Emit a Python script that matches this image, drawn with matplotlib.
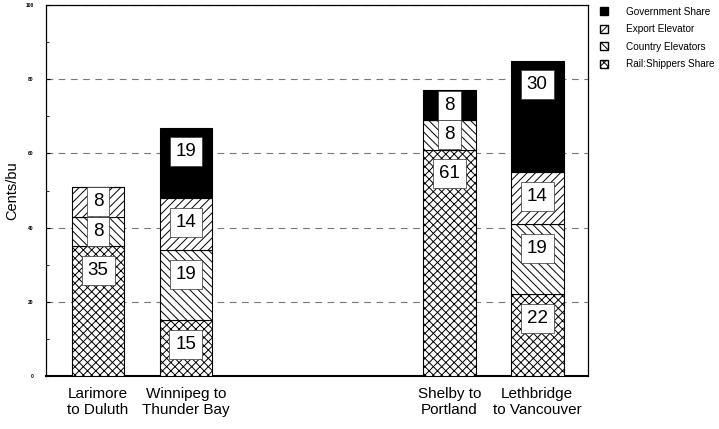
import matplotlib
matplotlib.use("Agg")
import matplotlib.pyplot as plt
from matplotlib.patches import Patch
from matplotlib.ticker import MultipleLocator
import numpy as np

plt.rcParams['font.family'] = ['Liberation Sans', 'DejaVu Sans']
plt.rcParams['hatch.linewidth'] = 0.7

routes = ["Larimore\nto Duluth", "Winnipeg to\nThunder Bay", "Shelby to\nPortland", "Lethbridge\nto Vancouver"]
positions = [0, 1, 4, 5]
components = ["Rail:Shippers Share", "Country Elevators", "Export Elevator", "Government Share"]
rail = [35, 15, 61, 22]
country = [8, 19, 8, 19]
export = [8, 14, 0, 14]
government = [0, 19, 8, 30]
series = [rail, country, export, government]
hatches = ['xxxx', '\\\\\\\\', '////', None]
colors = ['white', 'white', 'white', 'black']

fig = plt.figure(figsize=(7.19, 4.29), dpi=100)
ax = fig.add_axes([0.064, 0.1235, 0.754, 0.8645])

bottom = np.zeros(len(routes))
for vals, h, c, name in zip(series, hatches, colors, components):
    vals = np.array(vals, dtype=float)
    ax.bar(positions, vals, width=0.6, bottom=bottom, color=c, hatch=h,
           edgecolor='black', linewidth=0.8, label=name, zorder=3)
    for x, v, b in zip(positions, vals, bottom):
        if v > 0:
            top = b + v
            y = top - min(v / 2.0, 6.5)
            ax.text(x, y, f"{int(v)}", ha='center', va='center', fontsize=13.5,
                    zorder=5,
                    bbox=dict(boxstyle='square,pad=0.32', facecolor='white',
                              edgecolor='#333333', linewidth=0.5))
    bottom += vals

ax.set_xlim(-0.593, 5.58)
ax.set_ylim(0, 100)
ax.set_xticks(positions)
ax.set_xticklabels(routes, fontsize=11, ha='center')
ax.tick_params(axis='x', length=0, pad=8)
ax.yaxis.set_major_locator(MultipleLocator(20))
ax.yaxis.set_minor_locator(MultipleLocator(10))
ax.tick_params(axis='y', which='both', direction='in', labelsize=3.5, length=3, pad=9)
ax.tick_params(axis='y', which='minor', length=2)
ax.set_yticklabels([f"{int(t)}" for t in ax.get_yticks()], fontweight='bold')
ax.set_ylabel("Cents/bu", fontsize=10.5, labelpad=4)
ax.grid(axis='y', linestyle=(0, (6, 5)), color='#777777', linewidth=0.8, zorder=0)
for s in ax.spines.values():
    s.set_linewidth(0.9)
ax.spines['bottom'].set_linewidth(1.5)

handles = [Patch(facecolor=c, edgecolor='black', hatch=h, label=n)
           for n, h, c in zip(components, hatches, colors)]
handles = handles[::-1]
ax.legend(handles=handles, loc='upper left', bbox_to_anchor=(1.005, 1.02),
          frameon=False, fontsize=7.2, handlelength=0.8, handleheight=0.8,
          handletextpad=1.8, labelspacing=0.75)

fig.savefig("out.png", dpi=100)
